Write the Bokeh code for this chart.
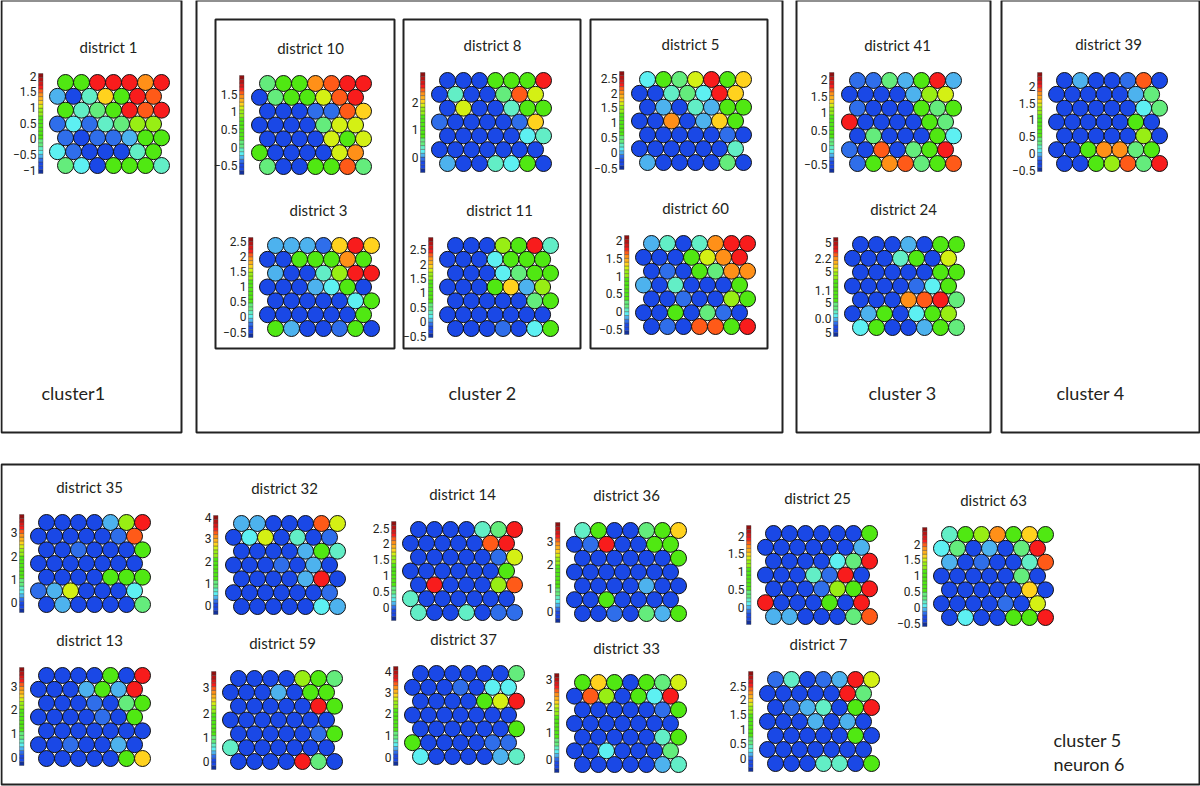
from bokeh.plotting import figure
from bokeh.models import ColumnDataSource, Range1d
from bokeh.core.properties import value
from bokeh.embed import file_html
from bokeh.resources import INLINE

# Map values: one hex digit per neuron (colour level 0..12), seven rows of seven neurons
district_1 = ["66cccac", "20496cb", "6456cbc", "1314577", "1011266", "3100046", "5306664"]
district_10 = ["566abcc", "05668bc", "00011b9", "0000588", "0000868", "600008a", "50066b5"]
district_8 = ["000666c", "04005b8", "0800466", "1000019", "0000034", "0000000", "2004360"]
district_5 = ["3658c69", "00453c9", "0204266", "00a0296", "0000010", "0000004", "2000050"]
district_41 = ["11526c2", "0000278", "1000656", "c000065", "0500063", "10b056c", "16ab56b"]
district_39 = ["02001b0", "0000025", "0000035", "0000060", "0000070", "006aa56", "0067b5c"]
district_3 = ["22219c9", "00666a6", "20047cc", "0002360", "0000036", "0000006", "6200160"]
district_11 = ["00076c4", "0003666", "0003566", "0006927", "0000056", "0000000", "0001036"]
district_60 = ["2404acc", "00068ac", "01065aa", "2040006", "0010076", "0060510", "010bb6c"]
district_24 = ["0002066", "0004608", "0000066", "0000136", "000abc5", "0260367", "3600265"]
district_35 = ["000027c", "000001b", "0010006", "0000000", "0000666", "1280003", "0200005"]
district_32 = ["22000b8", "0380401", "0000264", "0001020", "00002c0", "0000001", "0000032"]
district_14 = ["000045c", "00000bc", "0000018", "0000006", "0c0007b", "4000000", "4004011"]
district_36 = ["4600569", "01c0066", "0000006", "0000000", "0000200", "0060000", "0010526"]
district_25 = ["0000006", "0000002", "000035c", "00041c0", "000176c", "c00060c", "220005b"]
district_63 = ["467a696", "350205c", "201004b", "0000050", "0000090", "0000108", "030066c"]
district_13 = ["000060c", "000262c", "0001056", "0000106", "0000000", "0010020", "0000069"]
district_59 = ["0000765", "0002066", "00000c6", "0000000", "0000016", "4000000", "0000c50"]
district_37 = ["0000005", "0001033", "000068c", "0000000", "0000006", "6000011", "3000024"]
district_33 = ["6960658", "0b7063c", "0000016", "0000000", "0000046", "0030005", "0000024"]
district_7 = ["14012c8", "00000c5", "012406c", "0002020", "0000060", "0000000", "0004406"]

ticks_a = ["2", "1.5", "1", "0.5", "0", "\u22120.5", "\u22121"]
ticks_b = ["1.5", "1", "0.5", "0", "\u22120.5"]
ticks_c = ["2", "1", "0"]
ticks_d = ["2.5", "2", "1.5", "1", "0.5", "0", "\u22120.5"]
ticks_e = ["2", "1.5", "1", "0.5", "0", "\u22120.5"]
ticks_f = ["5", "2.2", "5", "1.1", "5", "0.0", "5"]
ticks_g = ["3", "2", "1", "0"]
ticks_h = ["4", "3", "2", "1", "0"]
ticks_i = ["2.5", "2", "1.5", "1", "0.5", "0"]
ticks_j = ["2", "1.5", "1", "0.5", "0"]

palette = ["#1a48e6", "#2f6eea", "#4db2ee", "#5df0f2", "#62eec6", "#64ec7c", "#50e812",
           "#98ee14", "#d4f014", "#ffd21e", "#ff9018", "#ff5a18", "#f81c1c"]
bar_palette = ["#12309c", "#1a48e6", "#1a48e6", "#2f6eea", "#4db2ee", "#5df0f2", "#62eec6",
               "#64ec7c", "#64ec7c", "#50e812", "#50e812", "#50e812", "#50e812", "#50e812",
               "#50e812", "#98ee14", "#98ee14", "#d4f014", "#ffd21e", "#ffb01c", "#ff9018",
               "#ff5a18", "#f81c1c", "#d81818", "#b81414", "#901010"]

# Placement on the page: title, first neuron, last neuron in first row, last row, colour bar, tick rows
maps = [
    ("district 1", district_1, (108, 46), (65, 161, 82, 165), (38, 73, 173), 36, ticks_a, [76, 91, 107, 123, 138, 154, 170]),
    ("district 10", district_10, (310, 47), (267, 363, 83, 166), (239, 75, 174), 237, ticks_b, [94, 111, 129, 147, 165]),
    ("district 8", district_8, (492, 44), (447, 543, 80, 163), (420, 72, 172), 418, ticks_c, [102, 129, 157]),
    ("district 5", district_5, (690, 43), (647, 743, 79, 162), (619, 71, 169), 617, ticks_d, [78, 93, 107, 122, 137, 152, 168]),
    ("district 41", district_41, (897, 44), (857, 953, 80, 163), (829, 72, 172), 827, ticks_e, [79, 96, 112, 130, 147, 164]),
    ("district 39", district_39, (1108, 43), (1064, 1159, 80, 163), (1037, 72, 171), 1035, ticks_e, [86, 103, 119, 136, 153, 170]),
    ("district 3", district_3, (318, 209), (275, 371, 245, 328), (248, 237, 337), 246, ticks_d, [241, 256, 271, 286, 301, 316, 332]),
    ("district 11", district_11, (499, 209), (455, 550, 245, 328), (428, 237, 337), 426, ticks_d, [249, 264, 278, 292, 307, 321, 336]),
    ("district 60", district_60, (695, 207), (651, 747, 243, 326), (624, 235, 334), 622, ticks_e, [240, 258, 276, 293, 311, 329]),
    ("district 24", district_24, (903, 208), (860, 956, 244, 327), (833, 237, 336), 831, ticks_f, [242, 258, 271, 290, 302, 318, 332]),
    ("district 35", district_35, (89, 486), (46, 142, 522, 604), (19, 514, 612), 17, ticks_g, [532, 556, 579, 602]),
    ("district 32", district_32, (284, 487), (241, 337, 523, 606), (213, 515, 614), 211, ticks_h, [517, 538, 561, 583, 605]),
    ("district 14", district_14, (462, 493), (418, 514, 529, 612), (391, 521, 620), 389, ticks_i, [528, 543, 559, 575, 591, 607]),
    ("district 36", district_36, (626, 494), (582, 678, 530, 613), (555, 522, 622), 553, ticks_g, [541, 564, 588, 611]),
    ("district 25", district_25, (817, 497), (773, 869, 533, 616), (746, 525, 624), 744, ticks_j, [536, 553, 571, 589, 607]),
    ("district 63", district_63, (993, 499), (949, 1045, 534, 617), (922, 527, 626), 920, ticks_e, [544, 559, 575, 591, 607, 623]),
    ("district 13", district_13, (89, 639), (46, 142, 675, 758), (19, 667, 765), 17, ticks_g, [686, 709, 733, 757]),
    ("district 59", district_59, (282, 642), (238, 334, 678, 761), (211, 671, 769), 209, ticks_g, [687, 713, 737, 761]),
    ("district 37", district_37, (463, 638), (420, 516, 673, 756), (393, 666, 765), 391, ticks_h, [671, 692, 713, 735, 757]),
    ("district 33", district_33, (626, 647), (582, 678, 682, 764), (554, 673, 772), 552, ticks_g, [679, 706, 732, 759]),
    ("district 7", district_7, (818, 643), (775, 871, 679, 763), (748, 671, 771), 746, ticks_i, [686, 699, 714, 729, 743, 758]),
]
frames = [(1, 181, 0, 432), (196, 782, 0, 432), (796, 990, 0, 432), (1001, 1199, 0, 432),
          (215, 394, 19, 348), (403, 580, 19, 348), (590, 767, 19, 348), (1, 1199, 464, 784)]
cluster_labels = [("cluster1", 41, 392), ("cluster 2", 448, 392), ("cluster 3", 868, 392),
                  ("cluster 4", 1056, 392), ("cluster 5", 1053, 739), ("neuron 6", 1053, 763)]

TITLE_FONT = value("Lato")
TICK_FONT = value("Roboto")
TEXT = "#231f20"

p = figure(width=1200, height=786, output_backend="svg", toolbar_location=None,
           x_range=Range1d(0, 1200), y_range=Range1d(786, 0),
           x_axis_location=None, y_axis_location=None, min_border=0,
           outline_line_color=None, background_fill_color="white",
           styles={"position": "absolute", "left": "0px", "top": "0px"})
p.grid.visible = False

cx, cy, cc = [], [], []
bl, br, bt, bb, bc = [], [], [], [], []
tx, ty, ts = [], [], []
lx, ly, ls = [], [], []
for name, rows, (title_x, title_y), (x0, x1, y0, y1), (bar_x, bar_top, bar_bot), lab_x, labels, lab_y in maps:
    dx = (x1 - x0) / 6
    dy = (y1 - y0) / 6
    for r, row in enumerate(rows):
        for c, ch in enumerate(row):
            cx.append(x0 + c * dx - (dx / 2 if r % 2 else 0))
            cy.append(y0 + r * dy)
            cc.append(palette[int(ch, 16)])
    n = len(bar_palette)
    h = (bar_bot - bar_top) / n
    for i, col in enumerate(bar_palette):
        bl.append(bar_x); br.append(bar_x + 4.5)
        bb.append(bar_bot - i * h); bt.append(bar_bot - (i + 1) * h)
        bc.append(col)
    tx.append(title_x); ty.append(title_y); ts.append(name)
    for lab, y in zip(labels, lab_y):
        lx.append(lab_x); ly.append(y); ls.append(lab)

p.quad(left=[f[0] for f in frames], right=[f[1] for f in frames],
       top=[f[2] for f in frames], bottom=[f[3] for f in frames],
       fill_color=None, line_color="#222222", line_width=2)
p.quad(left=bl, right=br, top=bt, bottom=bb, fill_color=bc, line_color="#444444", line_width=0.4)
p.circle(x="x", y="y", radius=8, fill_color="c", line_color="#111111", line_width=1.0,
         source=ColumnDataSource(dict(x=cx, y=cy, c=cc)))
p.text(x=tx, y=ty, text=ts, text_font=TITLE_FONT, text_font_size="15px", text_color=TEXT,
       text_align="center", text_baseline="middle")
p.text(x=lx, y=ly, text=ls, text_font=TICK_FONT, text_font_size="12px", text_color=TEXT,
       text_align="right", text_baseline="middle")
p.text(x=[c[1] for c in cluster_labels], y=[c[2] for c in cluster_labels],
       text=[c[0] for c in cluster_labels], text_font=TITLE_FONT, text_font_size="18px", text_color=TEXT,
       text_align="left", text_baseline="middle")

open("out.html", "w").write(file_html(p, INLINE))
